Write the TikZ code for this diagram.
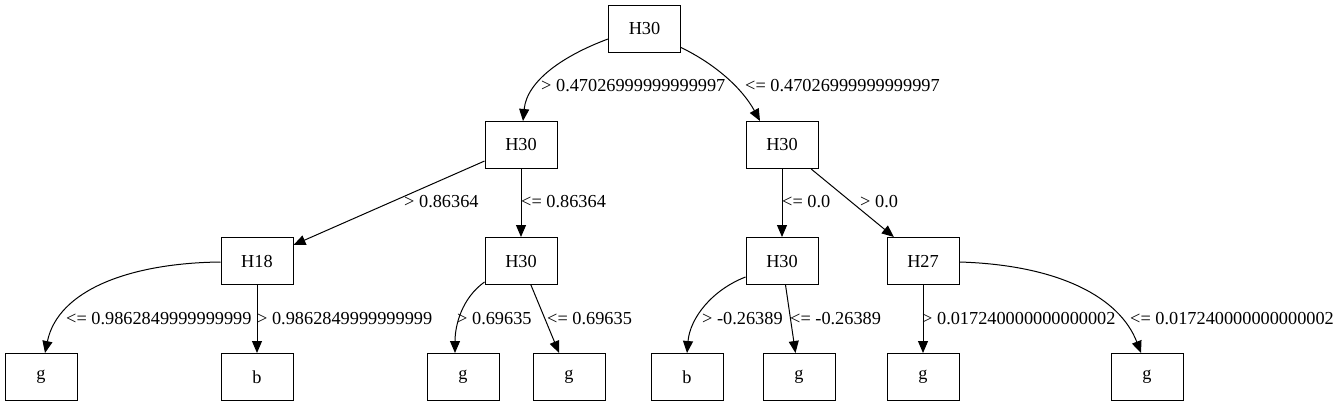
\documentclass[tikz,border=0pt]{standalone}
\usepackage{fontspec}
\setmainfont{Liberation Serif}
\usetikzlibrary{arrows.meta}
\begin{document}
\begin{tikzpicture}[x=1pt,y=-1pt,
  box/.style={draw,line width=1pt,minimum width=72pt,minimum height=47pt,inner sep=0pt},
  edge/.style={line width=1pt,-{Triangle[length=12pt,width=10pt]}},
  lbl/.style={anchor=west,inner sep=0pt},
  every node/.style={font=\fontsize{18.3}{20}\selectfont}]
\useasboundingbox (0,0) rectangle (1340,407);
% nodes
\node[box] (root) at (644.5,28.5) {H30};
\node[box] (a) at (521,145) {H30};
\node[box] (e) at (782,145) {H30};
\node[box] (c) at (257,261) {H18};
\node[box] (d) at (521,261) {H30};
\node[box] (e2) at (782,261) {H30};
\node[box] (f) at (923,261) {H27};
\node[box] (l1) at (41,377) {g};
\node[box] (l2) at (257,377) {b};
\node[box] (l3) at (463,377) {g};
\node[box] (l4) at (569,377) {g};
\node[box] (l5) at (687,377) {b};
\node[box] (l6) at (799,377) {g};
\node[box] (l7) at (923,377) {g};
\node[box] (l8) at (1147,377) {g};
% edges
\draw[edge] ([yshift=-10.5pt]root.west) .. controls (565,55) and (527,80) .. ([xshift=2pt]a.north);
\draw[edge] ([yshift=-19pt]root.east) .. controls (715,64) and (742,88) .. ([xshift=-22pt]e.north);
\draw[edge] (a) -- (c);
\draw[edge] (a) -- (d);
\draw[edge] (e) -- (e2);
\draw[edge] (e) -- (f);
\draw[edge] ([yshift=-1pt]c.west) .. controls (130,263) and (58,290) .. ([xshift=4pt]l1.north);
\draw[edge] (c) -- (l2);
\draw[edge] ([yshift=-21pt]d.west) .. controls (462,298) and (455,325) .. ([xshift=-8pt]l3.north);
\draw[edge] (d) -- (l4);
\draw[edge] ([yshift=-16pt]e2.west) .. controls (712,290) and (690,318) .. (l5.north);
\draw[edge] (e2) -- (l6);
\draw[edge] (f) -- (l7);
\draw[edge] ([yshift=-1pt]f.east) .. controls (1060,265) and (1120,298) .. ([xshift=-6pt]l8.north);
% labels
\node[lbl] (t1) at (541,86) {> 0.47026999999999997};
\node[lbl] (t2) at (745,86) {<= 0.47026999999999997};
\node[lbl] (t3) at (404,202) {> 0.86364};
\node[lbl] (t4) at (521,202) {<= 0.86364};
\node[lbl] (t5) at (782,202) {<= 0.0};
\node[lbl] (t6) at (860,202) {> 0.0};
\node[lbl] (t7) at (66,319) {<= 0.9862849999999999};
\node[lbl] (t8) at (257,319) {> 0.9862849999999999};
\node[lbl] (t9) at (457,319) {> 0.69635};
\node[lbl] (t10) at (547,319) {<= 0.69635};
\node[lbl] (t11) at (702,319) {> -0.26389};
\node[lbl] (t12) at (790,319) {<= -0.26389};
\node[lbl] (t13) at (922,319) {> 0.017240000000000002};
\node[lbl] (t14) at (1130,319) {<= 0.017240000000000002};
\end{tikzpicture}
\end{document}
